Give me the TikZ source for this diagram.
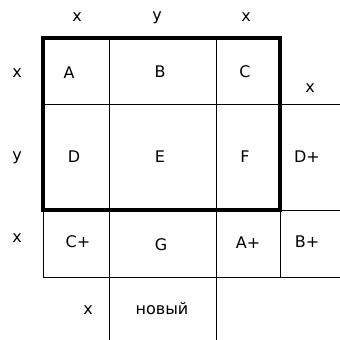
\documentclass[tikz,border=0pt]{standalone}
\usepackage{fontspec}
\setmainfont{DejaVu Sans}
\begin{document}
\begin{tikzpicture}[x=1pt,y=-1pt,
  thin line/.style={line width=1pt},
  thick box/.style={line width=4pt,line join=miter},
  lbl/.style={font=\fontsize{16}{18}\selectfont,inner sep=0pt,anchor=center}]
\useasboundingbox (0,0) rectangle (340,340);
% grid lines
\draw[thin line] (109,38) -- (109,340);
\draw[thin line] (216,38) -- (216,340);
\draw[thin line] (43,104) -- (340,104);
\draw[thin line] (280,210) -- (340,210);
\draw[thin line] (43,210) -- (43,277);
\draw[thin line] (43,277) -- (340,277);
\draw[thin line] (280,210) -- (280,277);
\draw[thick box] (43,38) rectangle (280,210);
% axis labels
\node[lbl] (tx1) at (77,17) {x};
\node[lbl] (ty) at (157,18) {y};
\node[lbl] (tx2) at (246,17) {x};
\node[lbl] (lx1) at (17,73) {x};
\node[lbl] (ly) at (17,158) {y};
\node[lbl] (lx2) at (17,238) {x};
\node[lbl] (rx) at (310,88) {x};
\node[lbl] (bx) at (88,310) {x};
% cells
\node[lbl] (A) at (69,73) {A};
\node[lbl] (B) at (160,72) {B};
\node[lbl] (C) at (245,72) {C};
\node[lbl] (D) at (74,157) {D};
\node[lbl] (E) at (160,157) {E};
\node[lbl] (F) at (245,157) {F};
\node[lbl] (Dp) at (307,157) {D+};
\node[lbl] (Cp) at (78,242) {C+};
\node[lbl] (G) at (161,245) {G};
\node[lbl] (Ap) at (248,243) {A+};
\node[lbl] (Bp) at (307,242) {B+};
\node[lbl] (nov) at (162,309) {новый};
\end{tikzpicture}
\end{document}
